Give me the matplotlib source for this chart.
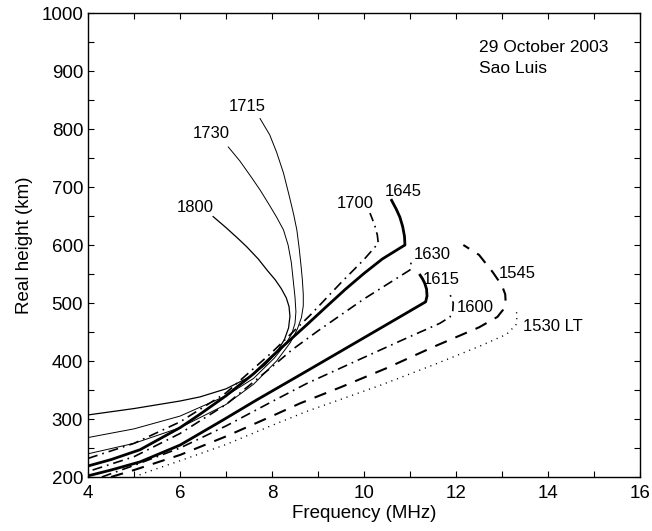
import matplotlib
matplotlib.use("Agg")
import matplotlib.pyplot as plt
from matplotlib.ticker import MultipleLocator

plt.rcParams['font.family'] = ['Liberation Sans', 'DejaVu Sans']

# ---- data (frequency MHz, real height km) ----
f1530 = [5.0, 5.3, 6.0, 7.0, 8.0, 8.75, 9.5, 10.35, 11.5, 12.5, 13.1, 13.3, 13.33, 13.3]
h1530 = [200, 209, 228, 256, 289, 313, 334, 358, 393, 425, 446, 462, 478, 490]

f1545 = [4.5, 5.0, 6.0, 7.0, 8.0, 8.61, 9.5, 10.5, 11.5, 12.5, 12.9, 13.02, 13.08, 13.07, 13.0, 12.8, 12.5, 12.16]
h1545 = [200, 212, 238, 270, 305, 327, 355, 388, 424, 458, 476, 488, 500, 515, 530, 553, 583, 600]

f1600 = [4.3, 5.0, 6.0, 7.0, 8.0, 8.75, 9.8, 10.8, 11.65, 11.87, 11.93, 11.94, 11.9, 11.83]
h1600 = [200, 220, 250, 288, 330, 361, 399, 435, 465, 476, 487, 500, 510, 519]

f1615 = [4.0, 4.5, 5.13, 6.0, 6.93, 7.67, 8.61, 9.5, 10.67, 11.34, 11.37, 11.36, 11.32, 11.27, 11.22]
h1615 = [202, 212, 226, 255, 298, 333, 376, 417, 471, 502, 512, 524, 534, 542, 548]

f1630 = [4.1, 5.0, 6.0, 7.0, 8.0, 8.43, 9.0, 10.0, 11.0, 11.02, 11.04]
h1630 = [212, 235, 275, 325, 390, 419, 452, 507, 557, 568, 577]

f1645 = [4.0, 4.5, 5.13, 6.0, 6.43, 7.0, 7.6, 8.15, 8.75, 9.2, 9.6, 10.0, 10.4, 10.89, 10.88, 10.84, 10.78, 10.7, 10.6]
h1645 = [219, 230, 247, 285, 308, 340, 378, 419, 462, 495, 524, 551, 576, 600, 615, 632, 648, 662, 677]

f1700 = [4.0, 5.0, 6.0, 7.0, 8.0, 8.83, 9.5, 10.0, 10.31, 10.29, 10.24, 10.18, 10.13]
h1700 = [232, 258, 295, 345, 415, 479, 535, 575, 603, 617, 632, 645, 655]

f1715 = [4.0, 5.0, 6.0, 7.0, 7.6, 8.1, 8.4, 8.55, 8.64, 8.68, 8.68, 8.66, 8.63, 8.59, 8.54, 8.47, 8.38, 8.25, 8.1, 7.95, 7.74]
h1715 = [240, 258, 285, 325, 360, 400, 432, 455, 475, 495, 515, 540, 565, 595, 626, 653, 683, 724, 760, 790, 818]

f1730 = [4.0, 5.0, 6.0, 7.0, 7.6, 8.05, 8.3, 8.43, 8.5, 8.52, 8.5, 8.46, 8.42, 8.35, 8.25, 8.1, 7.95, 7.74, 7.55, 7.3, 7.05]
h1730 = [268, 283, 305, 340, 370, 405, 430, 447, 465, 485, 510, 540, 570, 600, 626, 648, 668, 695, 717, 745, 769]

f1800 = [4.0, 5.0, 6.0, 6.43, 7.0, 7.5, 7.85, 8.1, 8.27, 8.36, 8.39, 8.37, 8.31, 8.2, 8.07, 7.9, 7.7, 7.45, 7.25, 7.0, 6.72]
h1800 = [307, 318, 331, 338, 352, 372, 393, 415, 437, 457, 477, 494, 509, 525, 540, 556, 576, 597, 612, 630, 649]

labels = ["1530 LT", "1545", "1600", "1615", "1630", "1645", "1700", "1715", "1730", "1800"]
label_f = [13.46, 13.33, 12.41, 11.67, 11.48, 10.85, 9.80, 7.46, 6.67, 6.33]
label_h = [460, 550, 493, 541, 584, 693, 672, 838, 793, 664]

xticks = [4, 6, 8, 10, 12, 14, 16]
yticks = [200, 300, 400, 500, 600, 700, 800, 900, 1000]

# ---- figure ----
fig = plt.figure(figsize=(6.52, 5.31), dpi=100)
ax = fig.add_axes([88/652, 1 - 477/531, (640-88)/652, (477-13)/531])

dash = (0, (6, 4.5))
dashdot = (0, (6, 3, 1, 3))
dot = (0, (0.8, 3.5))

ax.plot(f1530, h1530, color='k', lw=1.0, linestyle=dot)
ax.plot(f1545, h1545, color='k', lw=1.5, linestyle=dash)
ax.plot(f1600, h1600, color='k', lw=1.2, linestyle=dashdot)
ax.plot(f1615, h1615, color='k', lw=2.0, linestyle='-')
ax.plot(f1630, h1630, color='k', lw=1.2, linestyle=dashdot)
ax.plot(f1645, h1645, color='k', lw=2.0, linestyle='-')
ax.plot(f1700, h1700, color='k', lw=1.2, linestyle=dashdot)
ax.plot(f1715, h1715, color='k', lw=0.7, linestyle='-')
ax.plot(f1730, h1730, color='k', lw=0.7, linestyle='-')
ax.plot(f1800, h1800, color='k', lw=0.9, linestyle='-')

for lab, lf, lh in zip(labels, label_f, label_h):
    ha = 'left' if lab.endswith('LT') else 'center'
    ax.text(lf, lh, lab, fontsize=12, ha=ha, va='center')

ax.text(12.5, 941, "29 October 2003", fontsize=12.5, ha='left', va='center')
ax.text(12.5, 905, "Sao Luis", fontsize=12.5, ha='left', va='center')

ax.set_xlim(4, 16)
ax.set_ylim(200, 1000)
ax.set_xticks(xticks)
ax.set_yticks(yticks)
ax.xaxis.set_minor_locator(MultipleLocator(1))
ax.yaxis.set_minor_locator(MultipleLocator(50))
ax.tick_params(which='both', direction='in', top=True, right=True, length=4, width=0.8, labelsize=13.5)
ax.tick_params(axis='x', pad=6)
for s in ax.spines.values():
    s.set_linewidth(1.0)

ax.set_xlabel("Frequency (MHz)", fontsize=13.5, labelpad=2)
ax.set_ylabel("Real height (km)", fontsize=13.5, labelpad=6)

fig.savefig("out.png", dpi=100)
